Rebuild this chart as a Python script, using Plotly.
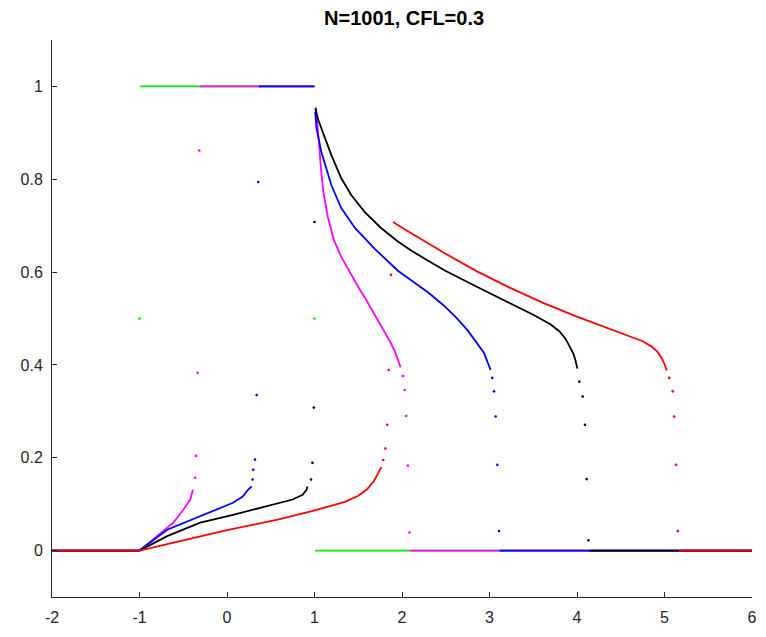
import plotly.graph_objects as go

# ---------------- data ----------------
# Each series: dense segments (drawn as lines, None = break) and sparse dots.
green_line_x = [-2, -1.008, None, -0.992, 0.992, None, 1.008, 6]
green_line_y = [0, 0, None, 1, 1, None, 0, 0]
green_dot_x = [-1.0, 1.0]
green_dot_y = [0.5, 0.5]

magenta_line_x = [-2, -1, -0.8, -0.613, -0.5, -0.42, -0.39, None,
                  -0.31, 1.0, None,
                  1.016, 1.03, 1.05, 1.075, 1.1, 1.15, 1.22, 1.3, 1.4, 1.5, 1.6,
                  1.7, 1.8, 1.87, 1.92, 1.955, 1.984, None,
                  2.094, 6]
magenta_line_y = [0, 0, 0.031, 0.06, 0.088, 0.11, 0.131, None,
                  1, 1, None,
                  0.955, 0.93, 0.88, 0.82, 0.775, 0.72, 0.67, 0.635, 0.6, 0.568, 0.537,
                  0.505, 0.473, 0.448, 0.428, 0.41, 0.395, None,
                  0, 0]
magenta_dot_x = [-0.363, -0.352, -0.337, -0.317, 2.01, 2.03, 2.048, 2.067, 2.086]
magenta_dot_y = [0.157, 0.204, 0.383, 0.862, 0.376, 0.346, 0.29, 0.183, 0.039]

blue_line_x = [-2, -1, -0.684, -0.306, 0.069, 0.183, 0.24, 0.282, None,
               0.364, 1.0, None,
               1.008, 1.023, 1.079, 1.136, 1.193, 1.306, 1.462, 1.689,
               1.953, 2.1, 2.3, 2.483, 2.62, 2.748, 2.862, 2.938, 2.975, 3.013, None,
               3.116, 6]
blue_line_y = [0, 0, 0.045, 0.074, 0.103, 0.117, 0.131, 0.138, None,
               1, 1, None,
               0.945, 0.91, 0.858, 0.824, 0.787, 0.738, 0.695, 0.65,
               0.603, 0.583, 0.556, 0.527, 0.502, 0.475, 0.447, 0.426, 0.407, 0.389, None,
               0, 0]
blue_dot_x = [0.293, 0.3, 0.32, 0.339, 0.357, 3.032, 3.051, 3.07, 3.089, 3.108]
blue_dot_y = [0.153, 0.174, 0.196, 0.335, 0.794, 0.372, 0.343, 0.289, 0.185, 0.042]

black_line_x = [-2, -1, -0.684, -0.306, 0.069, 0.451, 0.75, 0.864, 0.909, 0.92, None,
                1.008, 1.045, 1.121, 1.193, 1.306, 1.42, 1.575, 1.76, 1.953, 2.1,
                2.294, 2.484, 2.861, 3.236, 3.5, 3.7, 3.8, 3.87, 3.92, 3.96, 3.985, 4.005, None,
                4.138, 6]
black_line_y = [0, 0, 0.031, 0.06, 0.077, 0.095, 0.11, 0.12, 0.131, 0.138, None,
                0.953, 0.927, 0.888, 0.852, 0.802, 0.766, 0.729, 0.695, 0.666, 0.647,
                0.625, 0.604, 0.568, 0.533, 0.508, 0.487, 0.472, 0.456, 0.44, 0.424, 0.408, 0.392, None,
                0, 0]
black_dot_x = [0.96, 0.976, 0.992, 1.0, 4.027, 4.065, 4.091, 4.11, 4.13]
black_dot_y = [0.153, 0.189, 0.308, 0.708, 0.364, 0.332, 0.271, 0.154, 0.022]

red_line_x = [-2, -1, -0.5, 0, 0.591, 0.97, 1.348, 1.5, 1.6, 1.68, 1.73, 1.765, None,
              1.897, 2.101, 2.484, 2.862, 3.236, 3.619, 4.0, 4.371, 4.6, 4.75, 4.85,
              4.92, 4.97, 5.0, 5.025, None,
              5.16, 6]
red_line_y = [0, 0, 0.022, 0.044, 0.067, 0.085, 0.105, 0.118, 0.132, 0.15, 0.168, 0.18, None,
              0.708, 0.684, 0.641, 0.601, 0.566, 0.533, 0.504, 0.478, 0.462, 0.451, 0.44,
              0.428, 0.414, 0.402, 0.388, None,
              0, 0]
red_dot_x = [1.785, 1.81, 1.832, 1.848, 1.874, 5.053, 5.095, 5.11, 5.133, 5.152]
red_dot_y = [0.195, 0.22, 0.271, 0.389, 0.594, 0.372, 0.343, 0.289, 0.185, 0.042]

x_ticks = [-2, -1, 0, 1, 2, 3, 4, 5, 6]
y_ticks = [0, 0.2, 0.4, 0.6, 0.8, 1]
y_tick_labels = ["0", "0.2", "0.4", "0.6", "0.8", "1"]
title_text = "N=1001, CFL=0.3"

series = [
    ("#00e600", green_line_x, green_line_y, green_dot_x, green_dot_y),
    ("#ff00ff", magenta_line_x, magenta_line_y, magenta_dot_x, magenta_dot_y),
    ("#0000ff", blue_line_x, blue_line_y, blue_dot_x, blue_dot_y),
    ("#000000", black_line_x, black_line_y, black_dot_x, black_dot_y),
    ("#ff0000", red_line_x, red_line_y, red_dot_x, red_dot_y),
]

fig = go.Figure()
for color, lx, ly, dx, dy in series:
    fig.add_trace(go.Scatter(x=lx, y=ly, mode="lines",
                             line=dict(color=color, width=1.8),
                             hoverinfo="skip", showlegend=False))
    fig.add_trace(go.Scatter(x=dx, y=dy, mode="markers",
                             marker=dict(color=color, size=2.6),
                             hoverinfo="skip", showlegend=False))

tick_font = dict(family="Liberation Sans, Arial, sans-serif", size=16, color="#262626")
axis_common = dict(
    showgrid=False, zeroline=False, showline=True, linecolor="#262626",
    linewidth=1, ticks="inside", ticklen=5, tickcolor="#262626",
    tickfont=tick_font, mirror=False,
)
fig.update_xaxes(range=[-2, 6], tickvals=x_ticks,
                 ticktext=[str(v) for v in x_ticks], ticklabelstandoff=6, **axis_common)
fig.update_yaxes(range=[-0.1, 1.1], tickvals=y_ticks, ticktext=y_tick_labels,
                 ticklabelstandoff=5, **axis_common)

fig.update_layout(
    width=766, height=637,
    margin=dict(l=52, r=9, t=40, b=40),
    plot_bgcolor="white", paper_bgcolor="white",
    title=dict(text="<b>" + title_text + "</b>", x=0.5275, xanchor="center",
               y=0.972, yanchor="middle",
               font=dict(family="Liberation Sans, Arial, sans-serif", size=20, color="#000000")),
)

fig.write_html("out.html")
